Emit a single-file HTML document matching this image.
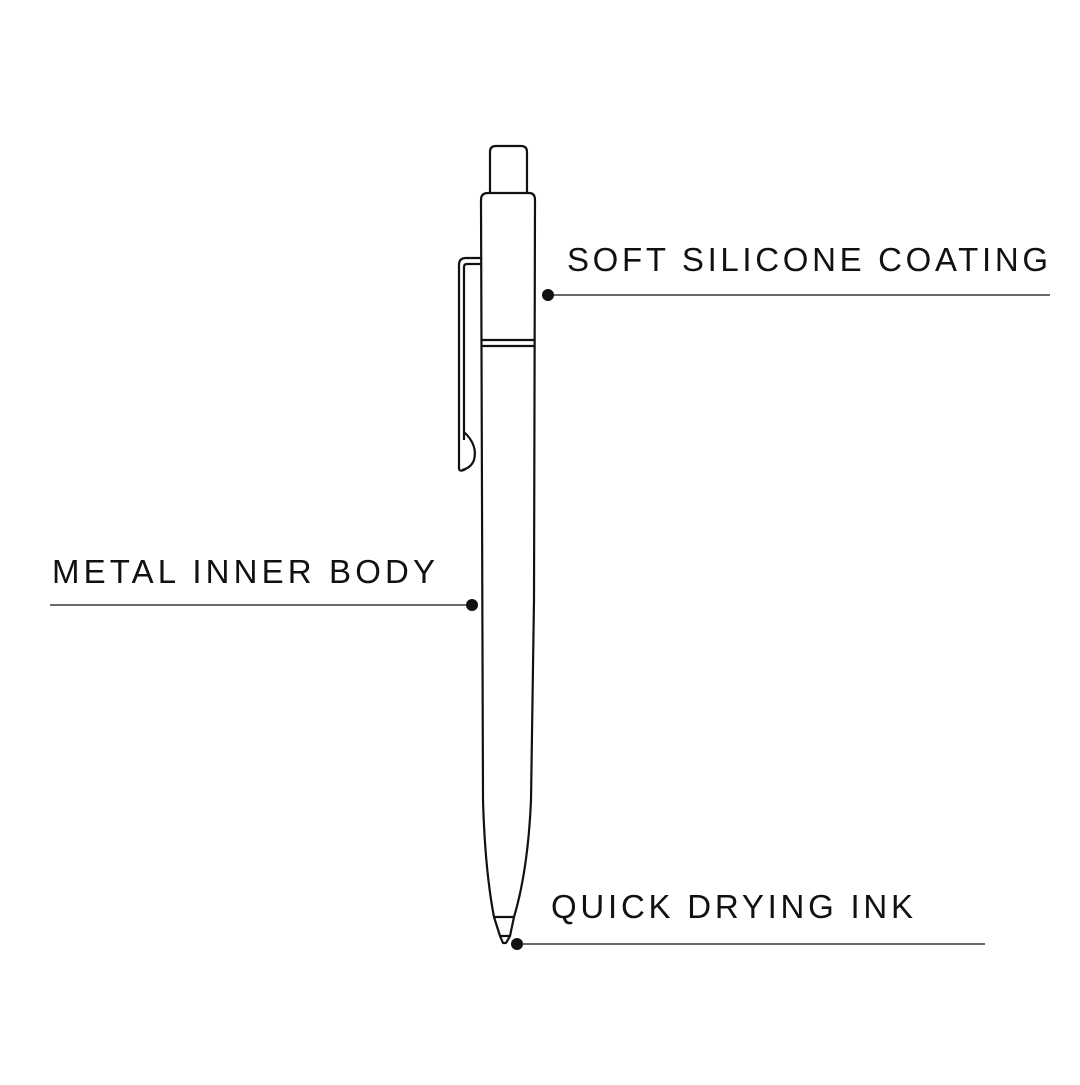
<!DOCTYPE html>
<html><head><style>html,body{margin:0;padding:0;background:#fff}</style></head>
<body>
<svg width="1080" height="1080" viewBox="0 0 1080 1080" xmlns="http://www.w3.org/2000/svg">
<rect width="1080" height="1080" fill="#fff"/>
<g fill="none" stroke="#111" stroke-width="2.2" stroke-linejoin="round">
<!-- cap -->
<path d="M490 193 V152 Q490 146 496 146 H521 Q527 146 527 152 V193"/>
<!-- body -->
<path d="M481 200 Q481 193 488 193 H529 Q535 193 535 200 L534 600 L531 800 Q528 870 514 917 H494 Q485 870 483 800 Z"/>
<!-- band -->
<path d="M481 340 H535 M481 346 H535"/>
<!-- tip -->
<path d="M494 917 L500 936 H510 L514 917"/>
<path d="M500 936 L503 943 H506 L510 936"/>
<!-- clip -->
<path d="M481 258 H466 Q459 258 459 265 V468 Q459 472 464 470 L467 468"/>
<path d="M481 264 H467 Q464 264 464 267 V440"/>
<path d="M464 432 Q478 445 474 460 Q471 468 462 470"/>
</g>
<g stroke="#111" stroke-width="1.3">
<line x1="548" y1="295" x2="1050" y2="295"/>
<line x1="50" y1="605" x2="472" y2="605"/>
<line x1="517" y1="944" x2="985" y2="944"/>
</g>
<g fill="#111">
<circle cx="548" cy="295" r="6"/>
<circle cx="472" cy="605" r="6"/>
<circle cx="517" cy="944" r="6"/>
</g>
<g font-family="Liberation Sans, sans-serif" font-size="33" fill="#111" font-weight="normal">
<text x="567" y="271" textLength="481" lengthAdjust="spacing">SOFT SILICONE COATING</text>
<text x="52" y="583" textLength="383" lengthAdjust="spacing">METAL INNER BODY</text>
<text x="551" y="918" textLength="362" lengthAdjust="spacing">QUICK DRYING INK</text>
</g>
</svg>
</body></html>
